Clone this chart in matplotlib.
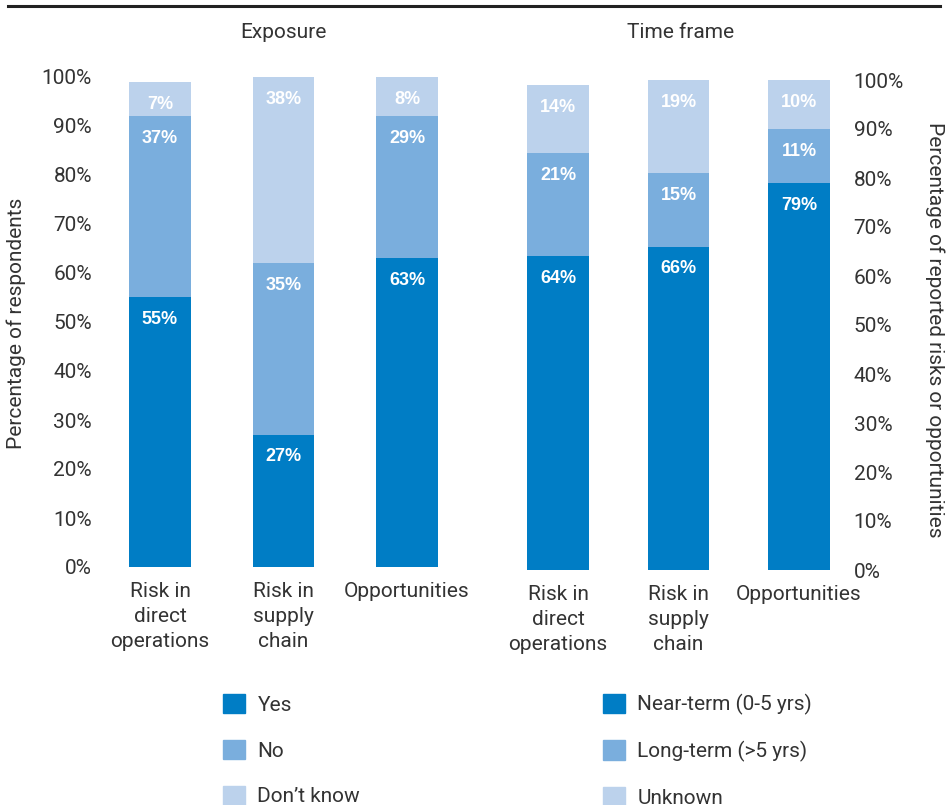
import matplotlib
matplotlib.use("Agg")
import matplotlib.pyplot as plt
from matplotlib.patches import Patch
import numpy as np

plt.rcParams['font.family'] = ['Roboto', 'DejaVu Sans']

# data
cats = ["Risk in\ndirect\noperations", "Risk in\nsupply\nchain", "Opportunities"]
exp_yes = [55, 27, 63]
exp_no = [37, 35, 29]
exp_dk = [7, 38, 8]
tf_near = [64, 66, 79]
tf_long = [21, 15, 11]
tf_unk = [14, 19, 10]
yticks = [0, 10, 20, 30, 40, 50, 60, 70, 80, 90, 100]

c_dark = "#007dc5"
c_mid = "#7aaedd"
c_light = "#bcd2ec"
txt = "#333333"
fs = 15

fig = plt.figure(figsize=(9.47, 8.05), dpi=100)
ax1 = fig.add_axes([104.4/947, 238/805, 358.2/947, 490/805])
ax2 = fig.add_axes([503.8/947, 235/805, 337.4/947, 490/805])


def stack(ax, series, colors, width):
    x = np.arange(len(cats))
    bottom = np.zeros(len(cats))
    for vals, col in zip(series, colors):
        vals = np.array(vals, dtype=float)
        ax.bar(x, vals, width, bottom=bottom, color=col, linewidth=0)
        for xi, b, v in zip(x, bottom, vals):
            ax.annotate(f"{int(v)}%", (xi, b + v), xytext=(0, -16),
                        textcoords='offset points', ha='center', va='center',
                        color='white', fontsize=13, fontweight='bold',
                        family=['Liberation Sans'])
        bottom += vals
    ax.set_ylim(0, 100)
    ax.set_yticks(yticks)
    ax.set_yticklabels([f"{t}%" for t in yticks])
    ax.set_xticks(x)
    ax.set_xticklabels(cats, linespacing=1.4)
    ax.tick_params(length=0, labelsize=fs, labelcolor=txt)
    ax.tick_params(axis='x', pad=11)
    for s in ax.spines.values():
        s.set_visible(False)


stack(ax1, [exp_yes, exp_no, exp_dk], [c_dark, c_mid, c_light], 0.5)
ax1.set_xlim(-0.45, 2.45)
ax1.tick_params(axis='y', pad=9)

stack(ax2, [tf_near, tf_long, tf_unk], [c_dark, c_mid, c_light], 0.51)
ax2.set_xlim(-0.45, 2.35)
ax2.yaxis.tick_right()
ax2.tick_params(axis='y', pad=9)

# titles and axis labels
fig.text(283/947, 1-32/805, "Exposure", ha='center', va='center',
         fontsize=fs, color=txt)
fig.text(681/947, 1-32/805, "Time frame", ha='center', va='center',
         fontsize=fs, color=txt)
fig.text(16/947, 1-323/805, "Percentage of respondents", rotation=90,
         ha='center', va='center', fontsize=fs, color=txt)
fig.text(935/947, 1-330/805, "Percentage of reported risks or opportunities",
         rotation=270, ha='center', va='center', fontsize=fs, color=txt)

# rule along the top
fig.add_artist(plt.Line2D([8/947, 940/947], [1-6/805, 1-6/805],
                          color="#222222", lw=2.2))

# legends
h1 = [Patch(color=c) for c in (c_dark, c_mid, c_light)]
fig.legend(h1, ["Yes", "No", "Don\u2019t know"], loc='upper left',
           bbox_to_anchor=(223/947, 1-694/805), frameon=False,
           handlelength=1.05, handleheight=1.05, handletextpad=0.6,
           labelspacing=1.2, borderpad=0, borderaxespad=0,
           fontsize=fs, labelcolor=txt)
fig.legend(h1, ["Near-term (0-5 yrs)", "Long-term (>5 yrs)", "Unknown"],
           loc='upper left', bbox_to_anchor=(603/947, 1-694/805),
           frameon=False, handlelength=1.05, handleheight=1.05,
           handletextpad=0.6, labelspacing=1.2, borderpad=0,
           borderaxespad=0, fontsize=fs, labelcolor=txt)

fig.savefig("out.png", dpi=100)
